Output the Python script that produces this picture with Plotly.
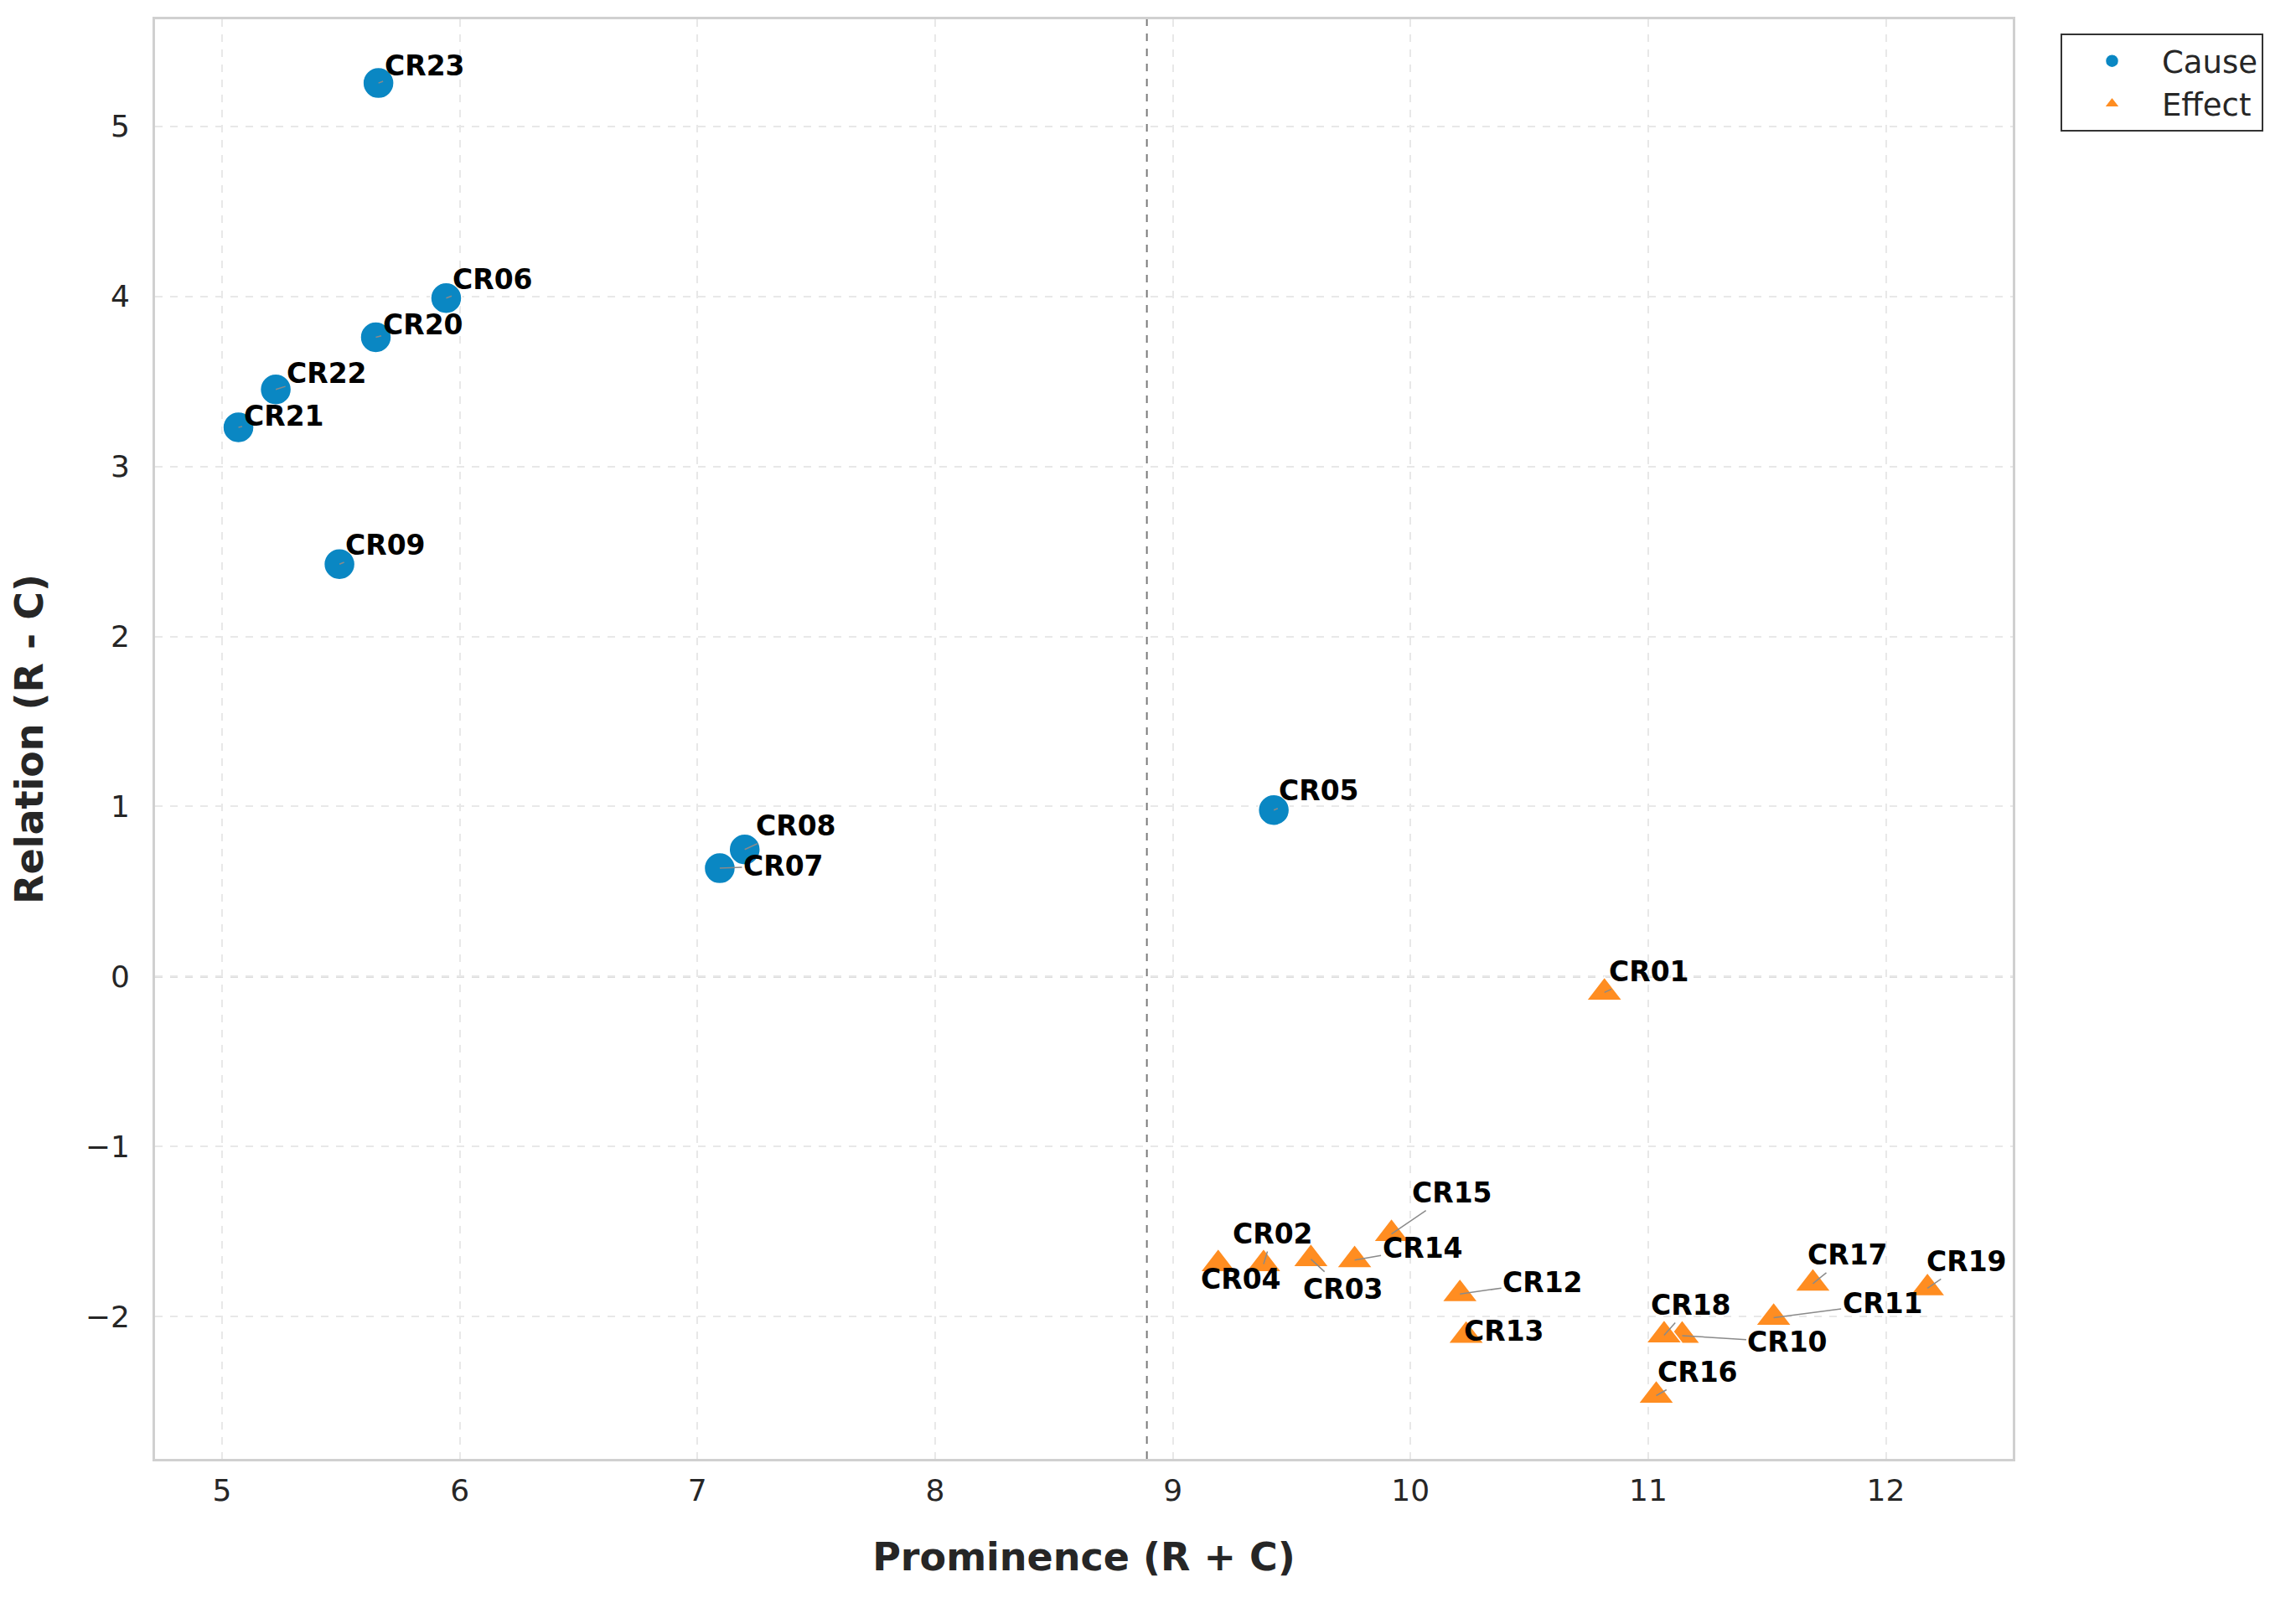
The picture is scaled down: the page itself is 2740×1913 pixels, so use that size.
import numpy as np
import plotly.graph_objects as go

# ---- data ----
cause_names = ["CR05", "CR06", "CR07", "CR08", "CR09", "CR20", "CR21", "CR22", "CR23"]
cause_x = [9.425, 5.943, 7.094, 7.199, 5.494, 5.647, 5.069, 5.226, 5.658]
cause_y = [0.979, 3.990, 0.637, 0.747, 2.425, 3.760, 3.230, 3.453, 5.255]

effect_names = ["CR01", "CR02", "CR03", "CR04", "CR10", "CR11", "CR12", "CR13",
                "CR14", "CR15", "CR16", "CR17", "CR18", "CR19"]
effect_x = [10.816, 9.382, 9.581, 9.191, 11.143, 11.528, 10.208, 10.234,
            9.765, 9.920, 11.034, 11.693, 11.067, 12.175]
effect_y = [-0.094, -1.691, -1.662, -1.691, -2.112, -2.007, -1.867, -2.113,
            -1.668, -1.514, -2.465, -1.806, -2.110, -1.833]

x_ticks = [5, 6, 7, 8, 9, 10, 11, 12]
y_ticks = [-2, -1, 0, 1, 2, 3, 4, 5]

# ---- label placement (pixel offsets of label centre from its point) ----
label_offsets = {
    "CR23": (55, -21), "CR06": (56, -22), "CR20": (56, -15), "CR22": (61, -19),
    "CR21": (54, -13), "CR09": (55, -23), "CR08": (61, -28), "CR07": (76, -3),
    "CR05": (54, -23), "CR01": (53, -25), "CR15": (72, -49), "CR02": (11, -36),
    "CR14": (81, -14), "CR04": (27, 18), "CR03": (39, 36), "CR12": (99, -14),
    "CR13": (45, -6), "CR18": (32, -36), "CR16": (49, -28), "CR10": (126, 8),
    "CR11": (130, -17), "CR17": (42, -34), "CR19": (47, -32),
}

CAUSE_COLOR = "#0A87C3"
EFFECT_COLOR = "#FF8D21"
FONT = "DejaVu Sans"
TEXT = "#262626"

fig = go.Figure()
fig.add_trace(go.Scatter(
    x=cause_x, y=cause_y, mode="markers", name="Cause",
    marker=dict(symbol="circle", size=37, color=CAUSE_COLOR,
                line=dict(color="white", width=1.5)),
))
fig.add_trace(go.Scatter(
    x=effect_x, y=effect_y, mode="markers", name="Effect",
    marker=dict(symbol="triangle-up", size=37, color=EFFECT_COLOR,
                line=dict(color="white", width=1.5)),
))

# reference lines: mean prominence and zero relation
mean_x = float(np.mean(cause_x + effect_x))
fig.add_vline(x=mean_x, line=dict(color="#7a7a7a", width=2, dash="dash"), layer="below")
fig.add_hline(y=0, line=dict(color="#7a7a7a", width=2, dash="dash"), layer="below")

# labels with leader lines
for names, xs, ys in [(cause_names, cause_x, cause_y), (effect_names, effect_x, effect_y)]:
    for n, xv, yv in zip(names, xs, ys):
        dx, dy = label_offsets[n]
        fig.add_annotation(
            x=xv, y=yv, text=f"<b>{n}</b>", ax=dx, ay=dy,
            showarrow=True, arrowhead=0, arrowwidth=1.5, arrowcolor="#8a8a8a",
            standoff=0, startstandoff=0,
            font=dict(family=FONT, size=33, color="black"),
        )

fig.update_xaxes(
    range=[4.718, 12.534], tickvals=x_ticks, ticktext=[str(t) for t in x_ticks],
    showgrid=True, gridcolor="#e8e8e8", gridwidth=1.5, griddash="dash",
    zeroline=False, showline=True, mirror=True, linecolor="#d0d0d0", linewidth=3,
    ticks="", ticklabelstandoff=4,
    tickfont=dict(family=FONT, size=36, color=TEXT),
    title=dict(text="<b>Prominence (R + C)</b>", standoff=44,
               font=dict(family=FONT, size=46, color=TEXT)),
)
fig.update_yaxes(
    range=[-2.837, 5.63], tickvals=y_ticks,
    showgrid=True, gridcolor="#e8e8e8", gridwidth=1.5, griddash="dash",
    zeroline=False, showline=True, mirror=True, linecolor="#d0d0d0", linewidth=3,
    ticks="", ticklabelstandoff=20,
    tickfont=dict(family=FONT, size=36, color=TEXT),
    title=dict(text="<b>Relation (R - C)</b>", standoff=40,
               font=dict(family=FONT, size=46, color=TEXT)),
)

fig.update_layout(
    width=2724, height=1897,
    margin=dict(l=177, r=330, t=13, b=164),
    paper_bgcolor="white", plot_bgcolor="white",
    font=dict(family=FONT, color=TEXT),
    showlegend=True,
    legend=dict(x=1.0257, y=0.99, xanchor="left", yanchor="top",
                bgcolor="white", bordercolor="#333333", borderwidth=2,
                font=dict(family=FONT, size=37, color=TEXT),
                itemsizing="trace", itemwidth=109, tracegroupgap=0),
)

fig.write_html("out.html")
